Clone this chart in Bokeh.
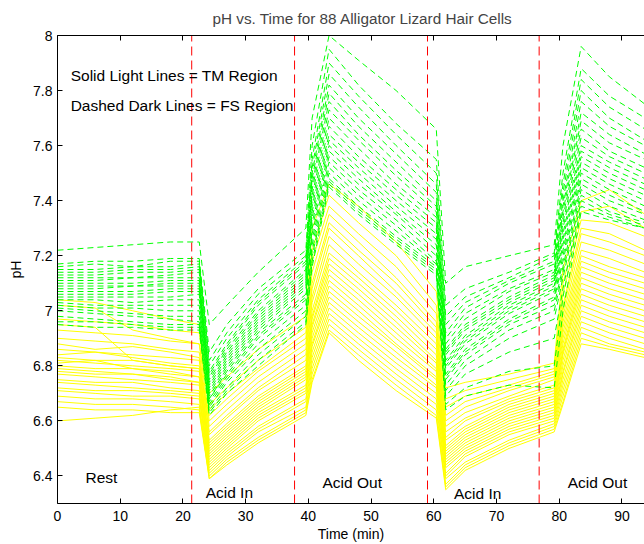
from bokeh.plotting import figure
from bokeh.models import Range1d, LinearAxis, FixedTicker, PrintfTickFormatter
from bokeh.core.properties import value
from bokeh.embed import file_html
from bokeh.resources import INLINE

# ---------------- data ----------------
times = [0, 6, 12, 18, 22.6, 24.2, 27, 32, 39.6, 40.6, 43.3, 48, 54, 60.4,
         61.9, 65, 72, 79.2, 80.6, 83.5, 88, 93.7]

# TM region (solid light / yellow) pH traces, one list per cell
tm_lines = [
    [7.04, 7.03, 7.00, 6.97, 6.95, 6.70, 6.76, 6.86, 6.98, 7.30, 7.46, 7.38, 7.25, 7.07, 6.72, 6.74, 6.77, 6.81, 7.15, 7.40, 7.44, 7.35],
    [7.02, 7.01, 6.93, 6.90, 6.88, 6.66, 6.72, 6.82, 6.94, 7.22, 7.42, 7.32, 7.20, 7.02, 6.68, 6.71, 6.75, 6.79, 7.10, 7.36, 7.38, 7.30],
    [6.97, 6.96, 6.95, 6.93, 6.92, 6.64, 6.70, 6.79, 6.92, 7.18, 7.38, 7.28, 7.16, 6.99, 6.65, 6.69, 6.73, 6.78, 7.06, 7.33, 7.32, 7.27],
    [6.95, 6.94, 6.82, 6.80, 6.79, 6.62, 6.68, 6.78, 6.90, 7.14, 7.35, 7.25, 7.12, 6.96, 6.62, 6.67, 6.72, 6.77, 7.02, 7.30, 7.28, 7.22],
    [6.93, 6.92, 6.91, 6.89, 6.88, 6.60, 6.66, 6.76, 6.88, 7.10, 7.32, 7.22, 7.10, 6.94, 6.60, 6.65, 6.71, 6.76, 7.00, 7.28, 7.25, 7.20],
    [6.90, 6.89, 6.88, 6.86, 6.85, 6.58, 6.64, 6.74, 6.86, 7.08, 7.30, 7.20, 7.07, 6.92, 6.58, 6.63, 6.69, 6.75, 6.98, 7.25, 7.22, 7.17],
    [6.88, 6.86, 6.87, 6.85, 6.83, 6.56, 6.62, 6.72, 6.84, 7.05, 7.27, 7.17, 7.05, 6.90, 6.56, 6.61, 6.68, 6.73, 6.96, 7.22, 7.19, 7.14],
    [6.86, 6.85, 6.84, 6.83, 6.82, 6.55, 6.61, 6.71, 6.82, 7.03, 7.24, 7.14, 7.02, 6.88, 6.54, 6.60, 6.67, 6.72, 6.94, 7.20, 7.16, 7.12],
    [6.84, 6.85, 6.83, 6.81, 6.80, 6.53, 6.59, 6.69, 6.80, 7.00, 7.21, 7.12, 7.00, 6.86, 6.53, 6.58, 6.66, 6.71, 6.92, 7.18, 7.14, 7.10],
    [6.83, 6.82, 6.82, 6.80, 6.79, 6.52, 6.58, 6.68, 6.79, 6.98, 7.19, 7.10, 6.98, 6.84, 6.51, 6.57, 6.65, 6.70, 6.90, 7.16, 7.12, 7.08],
    [6.82, 6.81, 6.80, 6.79, 6.78, 6.51, 6.57, 6.67, 6.78, 6.97, 7.17, 7.08, 6.96, 6.82, 6.50, 6.56, 6.64, 6.69, 6.88, 7.14, 7.10, 7.06],
    [6.81, 6.82, 6.79, 6.78, 6.76, 6.50, 6.56, 6.66, 6.77, 6.95, 7.15, 7.06, 6.94, 6.81, 6.49, 6.55, 6.63, 6.68, 6.86, 7.12, 7.08, 7.04],
    [6.80, 6.79, 6.79, 6.77, 6.76, 6.49, 6.55, 6.65, 6.76, 6.94, 7.13, 7.04, 6.92, 6.79, 6.48, 6.54, 6.62, 6.67, 6.85, 7.10, 7.06, 7.02],
    [6.79, 6.78, 6.77, 6.76, 6.74, 6.48, 6.54, 6.64, 6.75, 6.92, 7.11, 7.02, 6.90, 6.78, 6.47, 6.53, 6.61, 6.66, 6.84, 7.08, 7.04, 7.00],
    [6.78, 6.77, 6.77, 6.75, 6.74, 6.47, 6.53, 6.63, 6.73, 6.90, 7.09, 7.00, 6.88, 6.76, 6.46, 6.52, 6.60, 6.65, 6.82, 7.06, 7.02, 6.98],
    [6.77, 6.76, 6.75, 6.74, 6.73, 6.46, 6.52, 6.62, 6.72, 6.88, 7.07, 6.98, 6.87, 6.75, 6.45, 6.51, 6.59, 6.64, 6.80, 7.04, 7.00, 6.96],
    [6.75, 6.74, 6.74, 6.72, 6.71, 6.45, 6.51, 6.61, 6.71, 6.87, 7.05, 6.96, 6.85, 6.73, 6.44, 6.50, 6.58, 6.63, 6.78, 7.02, 6.98, 6.94],
    [6.74, 6.73, 6.72, 6.71, 6.70, 6.44, 6.50, 6.60, 6.70, 6.85, 7.03, 6.94, 6.83, 6.72, 6.43, 6.49, 6.57, 6.62, 6.77, 7.00, 6.96, 6.92],
    [6.72, 6.71, 6.71, 6.70, 6.69, 6.43, 6.49, 6.58, 6.68, 6.83, 7.01, 6.92, 6.81, 6.70, 6.41, 6.48, 6.56, 6.61, 6.75, 6.98, 6.94, 6.90],
    [6.71, 6.70, 6.69, 6.69, 6.68, 6.42, 6.48, 6.57, 6.67, 6.81, 6.99, 6.90, 6.79, 6.68, 6.40, 6.47, 6.55, 6.60, 6.73, 6.96, 6.92, 6.88],
    [6.69, 6.68, 6.68, 6.67, 6.66, 6.41, 6.47, 6.56, 6.65, 6.79, 6.97, 6.88, 6.77, 6.66, 6.39, 6.45, 6.53, 6.59, 6.71, 6.94, 6.90, 6.86],
    [6.67, 6.66, 6.66, 6.65, 6.64, 6.40, 6.46, 6.54, 6.64, 6.77, 6.95, 6.86, 6.75, 6.64, 6.37, 6.44, 6.52, 6.58, 6.69, 6.92, 6.88, 6.85],
    [6.65, 6.64, 6.64, 6.63, 6.63, 6.39, 6.45, 6.53, 6.63, 6.75, 6.93, 6.84, 6.73, 6.62, 6.36, 6.43, 6.51, 6.57, 6.67, 6.90, 6.87, 6.84],
    [6.60, 6.61, 6.62, 6.64, 6.65, 6.39, 6.44, 6.52, 6.62, 6.74, 6.92, 6.82, 6.71, 6.61, 6.35, 6.42, 6.50, 6.56, 6.66, 6.88, 6.86, 6.83],
]

# FS region (dashed dark / green) pH traces, one list per cell
fs_lines = [
    [7.22, 7.23, 7.24, 7.25, 7.25, 6.95, 7.02, 7.14, 7.30, 7.70, 8.00, 7.91, 7.80, 7.66, 7.10, 7.16, 7.20, 7.24, 7.60, 7.96, 7.85, 7.75],
    [7.17, 7.18, 7.18, 7.19, 7.19, 6.85, 6.95, 7.08, 7.22, 7.60, 7.95, 7.82, 7.68, 7.55, 7.02, 7.08, 7.14, 7.21, 7.50, 7.88, 7.78, 7.70],
    [7.16, 7.17, 7.16, 7.18, 7.18, 6.82, 6.92, 7.06, 7.20, 7.55, 7.90, 7.78, 7.64, 7.50, 6.98, 7.05, 7.12, 7.20, 7.46, 7.84, 7.74, 7.66],
    [7.15, 7.15, 7.16, 7.16, 7.17, 6.80, 6.90, 7.04, 7.19, 7.52, 7.86, 7.74, 7.60, 7.46, 6.95, 7.03, 7.11, 7.18, 7.43, 7.80, 7.70, 7.62],
    [7.14, 7.14, 7.15, 7.15, 7.16, 6.78, 6.88, 7.03, 7.18, 7.50, 7.82, 7.70, 7.57, 7.43, 6.92, 7.01, 7.10, 7.17, 7.40, 7.76, 7.67, 7.60],
    [7.13, 7.13, 7.14, 7.14, 7.15, 6.77, 6.87, 7.02, 7.17, 7.48, 7.79, 7.67, 7.54, 7.40, 6.90, 6.99, 7.08, 7.15, 7.38, 7.72, 7.64, 7.57],
    [7.12, 7.12, 7.12, 7.13, 7.14, 6.76, 6.86, 7.00, 7.15, 7.46, 7.76, 7.64, 7.51, 7.38, 6.88, 6.97, 7.07, 7.14, 7.36, 7.69, 7.61, 7.55],
    [7.11, 7.11, 7.12, 7.12, 7.12, 6.75, 6.85, 6.99, 7.14, 7.44, 7.73, 7.62, 7.49, 7.36, 6.86, 6.95, 7.05, 7.13, 7.34, 7.66, 7.58, 7.52],
    [7.10, 7.10, 7.10, 7.11, 7.11, 6.74, 6.84, 6.98, 7.13, 7.42, 7.70, 7.59, 7.46, 7.34, 6.85, 6.94, 7.04, 7.12, 7.32, 7.63, 7.56, 7.50],
    [7.09, 7.09, 7.09, 7.10, 7.10, 6.73, 6.83, 6.97, 7.12, 7.40, 7.67, 7.56, 7.44, 7.32, 6.84, 6.93, 7.03, 7.11, 7.30, 7.60, 7.54, 7.48],
    [7.08, 7.08, 7.09, 7.09, 7.09, 6.72, 6.82, 6.96, 7.11, 7.38, 7.64, 7.54, 7.42, 7.30, 6.82, 6.91, 7.02, 7.10, 7.28, 7.58, 7.52, 7.46],
    [7.07, 7.07, 7.07, 7.08, 7.08, 6.71, 6.81, 6.95, 7.10, 7.36, 7.62, 7.52, 7.40, 7.28, 6.81, 6.90, 7.01, 7.09, 7.26, 7.56, 7.50, 7.44],
    [7.06, 7.06, 7.06, 7.07, 7.07, 6.70, 6.80, 6.94, 7.09, 7.34, 7.60, 7.50, 7.38, 7.26, 6.80, 6.89, 7.00, 7.08, 7.24, 7.54, 7.48, 7.42],
    [7.05, 7.05, 7.05, 7.05, 7.06, 6.69, 6.79, 6.93, 7.08, 7.32, 7.58, 7.48, 7.36, 7.24, 6.79, 6.88, 6.99, 7.07, 7.22, 7.52, 7.46, 7.40],
    [7.04, 7.04, 7.03, 7.04, 7.04, 6.68, 6.78, 6.92, 7.06, 7.30, 7.56, 7.46, 7.35, 7.22, 6.77, 6.86, 6.97, 7.05, 7.20, 7.50, 7.44, 7.38],
    [7.03, 7.02, 7.02, 7.02, 7.02, 6.68, 6.77, 6.91, 7.05, 7.28, 7.54, 7.44, 7.33, 7.20, 6.76, 6.85, 6.96, 7.04, 7.18, 7.48, 7.42, 7.36],
    [7.02, 7.01, 7.01, 7.00, 7.00, 6.67, 6.76, 6.90, 7.04, 7.26, 7.52, 7.42, 7.31, 7.18, 6.75, 6.84, 6.95, 7.02, 7.16, 7.46, 7.40, 7.35],
    [7.01, 7.00, 6.99, 6.98, 6.98, 6.66, 6.75, 6.88, 7.02, 7.24, 7.50, 7.40, 7.29, 7.17, 6.73, 6.82, 6.93, 7.00, 7.14, 7.44, 7.38, 7.33],
    [7.00, 6.99, 6.98, 6.97, 6.96, 6.65, 6.74, 6.86, 7.00, 7.22, 7.48, 7.38, 7.27, 7.16, 6.71, 6.80, 6.90, 6.97, 7.12, 7.42, 7.36, 7.32],
    [6.98, 6.97, 6.96, 6.95, 6.95, 6.64, 6.72, 6.84, 6.98, 7.20, 7.47, 7.37, 7.26, 7.15, 6.69, 6.77, 6.85, 6.90, 7.08, 7.40, 7.35, 7.31],
    [6.96, 6.96, 6.95, 6.94, 6.94, 6.63, 6.71, 6.82, 6.96, 7.18, 7.46, 7.36, 7.25, 7.14, 6.66, 6.72, 6.78, 6.80, 7.05, 7.38, 7.34, 7.30],
    [6.95, 6.94, 6.94, 6.93, 6.93, 6.62, 6.70, 6.80, 6.95, 7.16, 7.45, 7.35, 7.24, 7.13, 6.64, 6.69, 6.73, 6.72, 7.00, 7.36, 7.33, 7.30],
]

acid_times = [21.4, 37.8, 59.0, 76.8]

phase_labels = ["Rest", "Acid In", "Acid Out", "Acid In", "Acid Out"]
phase_x = [7.0, 27.4, 47.0, 67.0, 86.1]
phase_y = [6.396, 6.34, 6.375, 6.337, 6.375]

note_labels = ["Solid Light Lines = TM Region", "Dashed Dark Lines = FS Region"]
note_x = [2.1, 2.1]
note_y = [7.855, 7.746]

x_ticks = [0, 10, 20, 30, 40, 50, 60, 70, 80, 90]
y_ticks = [6.4, 6.6, 6.8, 7.0, 7.2, 7.4, 7.6, 7.8, 8.0]

FONT = "Liberation Sans"

# ---------------- figure ----------------
p = figure(width=644, height=544, x_range=Range1d(0, 93.6), y_range=Range1d(6.3, 8.0),
           output_backend="svg", toolbar_location=None,
           min_border_left=57, min_border_right=0, min_border_top=35, min_border_bottom=39,
           title="pH vs. Time for 88 Alligator Lizard Hair Cells")
p.title.align = "left"
p.title.offset = 155
p.title.text_font = FONT
p.title.text_font_size = "15.3px"
p.title.text_font_style = "normal"
p.title.standoff = 14
p.title.vertical_align = "top"
p.outline_line_color = None
p.xgrid.visible = False
p.ygrid.visible = False
p.background_fill_color = "white"
p.border_fill_color = "white"

for ax in (p.xaxis[0], p.yaxis[0]):
    ax.major_tick_in = 5
    ax.major_tick_out = 0
    ax.minor_tick_line_color = None
    ax.axis_line_color = "black"
    ax.major_tick_line_color = "black"
    ax.major_label_text_font = FONT
    ax.major_label_text_font_size = "14px"
    ax.major_label_text_color = "black"
    ax.axis_label_text_font = FONT
    ax.axis_label_text_font_size = "14px"
    ax.axis_label_text_font_style = "normal"
    ax.axis_label_text_color = "black"

p.xaxis.ticker = FixedTicker(ticks=x_ticks)
p.yaxis.ticker = FixedTicker(ticks=y_ticks)
p.yaxis.formatter = PrintfTickFormatter(format="%g")
p.xaxis.axis_label = "Time (min)"
p.yaxis.axis_label = "pH"
p.xaxis.major_label_standoff = 7
p.xaxis.axis_label_standoff = 2
p.yaxis.major_label_standoff = 5
p.yaxis.axis_label_standoff = 6

top = LinearAxis(ticker=FixedTicker(ticks=x_ticks), major_tick_in=5, major_tick_out=0,
                 minor_tick_line_color=None, major_label_text_font_size="1px",
                 major_label_text_color=None, major_label_standoff=0,
                 axis_line_color="black")
p.add_layout(top, "above")

# ---------------- traces ----------------
n = max(len(tm_lines), len(fs_lines))
for i in range(n):
    if i < len(tm_lines):
        p.line(times, tm_lines[i], line_color="#ffff00", line_width=1)
    if i < len(fs_lines):
        p.line(times, fs_lines[i], line_color="#00ff00", line_width=1, line_dash="6 4")

# acid exchange markers
p.segment(x0=acid_times, x1=acid_times, y0=[6.3] * len(acid_times), y1=[8.0] * len(acid_times),
          line_color="#ff0000", line_width=1, line_dash="9 5")

p.text(x=phase_x, y=phase_y, text=phase_labels, text_font=value(FONT), text_font_size="15.5px",
       text_align="center", text_baseline="middle", text_color="black")
p.text(x=note_x, y=note_y, text=note_labels, text_font=value(FONT), text_font_size="15.5px",
       text_align="left", text_baseline="middle", text_color="black")

open("out.html", "w").write(file_html(p, INLINE))
